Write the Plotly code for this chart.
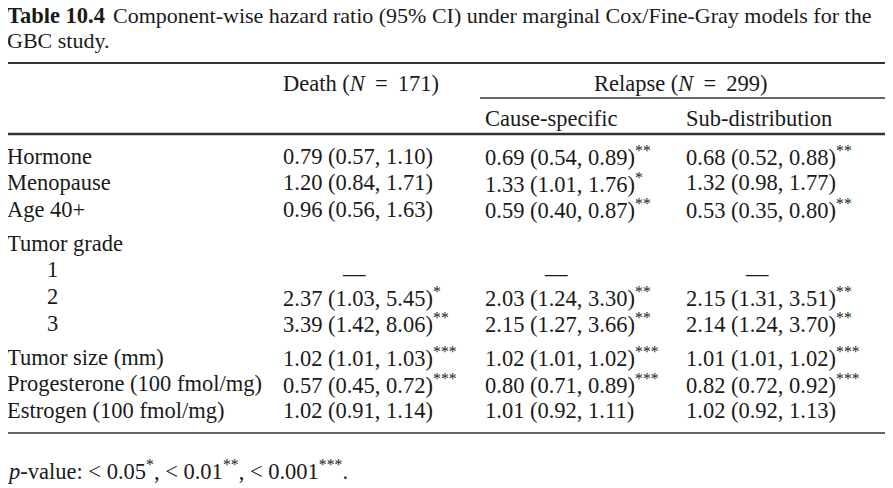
import plotly.graph_objects as go

# table content
labels = ['Hormone', 'Menopause', 'Age 40+', 'Tumor grade', '1', '2', '3',
          'Tumor size (mm)', 'Progesterone (100 fmol/mg)', 'Estrogen (100 fmol/mg)']
indent = [0, 0, 0, 0, 1, 1, 1, 0, 0, 0]
group = [0, 0, 0, 1, 1, 1, 1, 2, 2, 2]

# hazard ratio, lower, upper, stars  (None = header row, 'ref' = reference level)
death_hr = [0.79, 1.20, 0.96, None, 'ref', 2.37, 3.39, 1.02, 0.57, 1.02]
death_lo = [0.57, 0.84, 0.56, None, None, 1.03, 1.42, 1.01, 0.45, 0.91]
death_hi = [1.10, 1.71, 1.63, None, None, 5.45, 8.06, 1.03, 0.72, 1.14]
death_st = [0, 0, 0, 0, 0, 1, 2, 3, 3, 0]

cs_hr = [0.69, 1.33, 0.59, None, 'ref', 2.03, 2.15, 1.02, 0.80, 1.01]
cs_lo = [0.54, 1.01, 0.40, None, None, 1.24, 1.27, 1.01, 0.71, 0.92]
cs_hi = [0.89, 1.76, 0.87, None, None, 3.30, 3.66, 1.02, 0.89, 1.11]
cs_st = [2, 1, 2, 0, 0, 2, 2, 3, 3, 0]

sd_hr = [0.68, 1.32, 0.53, None, 'ref', 2.15, 2.14, 1.01, 0.82, 1.02]
sd_lo = [0.52, 0.98, 0.35, None, None, 1.31, 1.24, 1.01, 0.72, 0.92]
sd_hi = [0.88, 1.77, 0.80, None, None, 3.51, 3.70, 1.02, 0.92, 1.13]
sd_st = [2, 0, 2, 0, 0, 2, 2, 3, 3, 0]

n_death = 171
n_relapse = 299

FONT = 'Liberation Serif'
SIZE = 22.5
INK = '#1a1a1a'

fig = go.Figure()
ann = []


def txt(x, y, s, size=SIZE, **kw):
    d = dict(x=x, y=y, text=s, showarrow=False, xanchor='left', yanchor='middle',
             font=dict(family=FONT, size=size, color=INK))
    d.update(kw)
    ann.append(d)


LEFT = 8  # left edge of the axis range; text starts a little left of it via xshift

# caption
txt(LEFT, 15, '<b>Table 10.4</b>', xshift=-3)
txt(111, 15, 'Component-wise hazard ratio (95% CI) under marginal Cox/Fine-Gray models for the',
    size=22)
txt(LEFT, 40, 'GBC study.', xshift=-3, size=22)

# headers (math-style spacing round "=")
eq = ' \u2009=\u2009 '
txt(281, 83, f'Death (<i>N</i>{eq}{n_death})')
txt(592, 83, f'Relapse (<i>N</i>{eq}{n_relapse})')
txt(483, 118, 'Cause-specific')
txt(684, 118, 'Sub-distribution')

cols = [(281, death_hr, death_lo, death_hi, death_st),
        (483, cs_hr, cs_lo, cs_hi, cs_st),
        (684, sd_hr, sd_lo, sd_hi, sd_st)]

y0 = 156
step = 26.6
gap = 7.5
for i, lab in enumerate(labels):
    y = y0 + i * step + group[i] * gap
    if indent[i]:
        txt(45, y, lab)
    else:
        txt(LEFT, y, lab, xshift=-3)
    for x, hr, lo, hi, st in cols:
        if hr[i] is None:
            continue
        if hr[i] == 'ref':
            txt(x + 73, y + 4, '\u2014', xanchor='center')
            continue
        s = f'{hr[i]:.2f} ({lo[i]:.2f}, {hi[i]:.2f})'
        if st[i]:
            s += '<sup>' + '*' * st[i] + '</sup>'
        txt(x, y, s)

txt(LEFT, 470, '<i>p</i>-value: &lt; 0.05<sup>*</sup>, &lt; 0.01<sup>**</sup>, &lt; 0.001<sup>***</sup>.',
    xshift=-3)

# rules
rules = [(LEFT, 885, 63, 1.8), (480, 885, 98, 1.4), (LEFT, 885, 134, 2.4), (LEFT, 885, 433, 1.6)]
shapes = [dict(type='line', x0=a, x1=b, y0=y, y1=y, xref='x', yref='y',
               line=dict(color='#333333', width=w)) for a, b, y, w in rules]

# page body keeps an 8px margin, so the figure is 8px smaller and axes start at 8
fig.update_layout(
    width=885, height=480,
    margin=dict(l=0, r=0, t=0, b=0),
    paper_bgcolor='white', plot_bgcolor='white',
    xaxis=dict(range=[8, 893], visible=False, fixedrange=True),
    yaxis=dict(range=[488, 8], visible=False, fixedrange=True),
    annotations=ann, shapes=shapes,
    showlegend=False,
)
fig.write_html('out.html')
